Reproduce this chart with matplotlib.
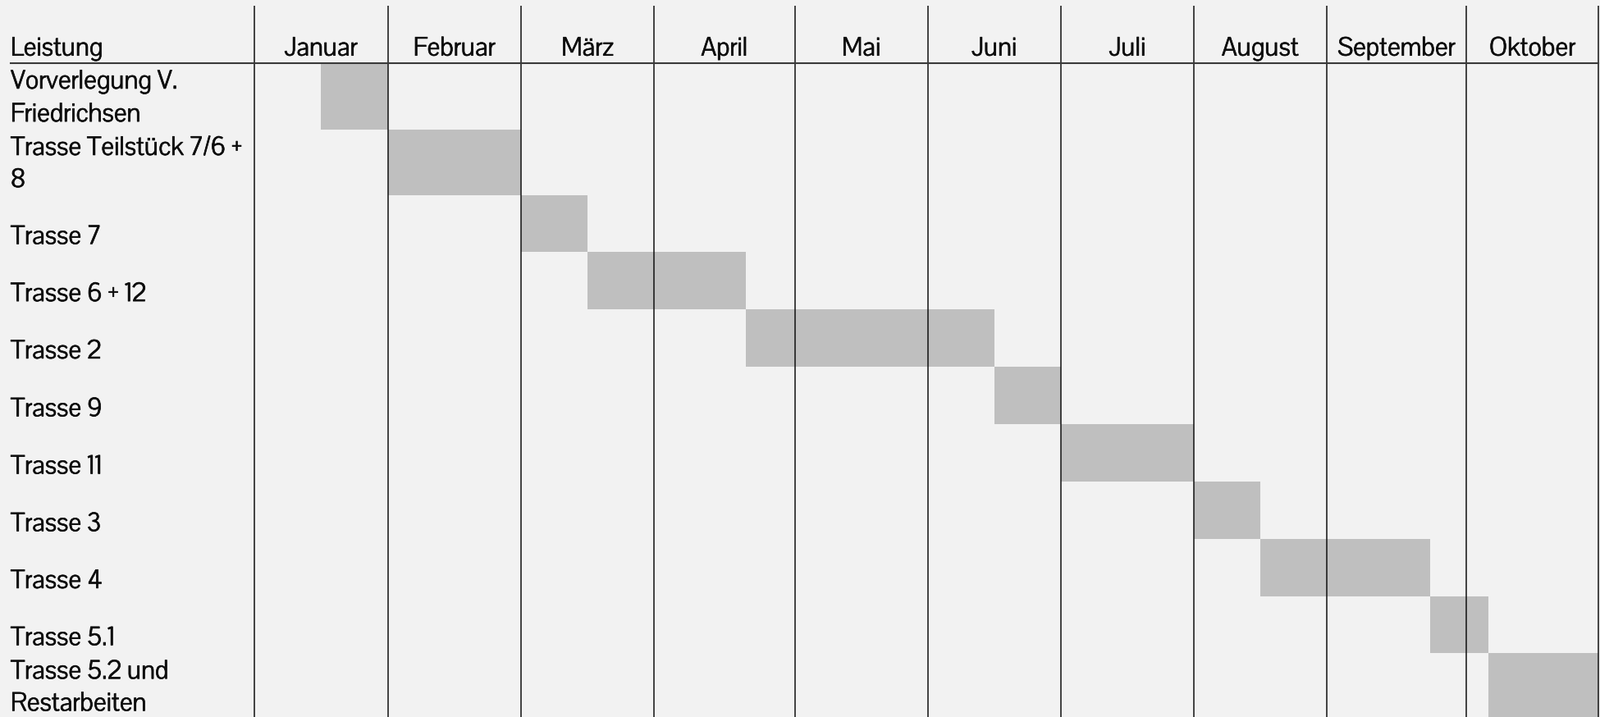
import os
import numpy as np
import matplotlib
matplotlib.use("Agg")
import matplotlib.pyplot as plt
from matplotlib import transforms
from matplotlib.lines import Line2D
from matplotlib import font_manager as fm
from matplotlib import patheffects as pe
from matplotlib.textpath import TextPath
from matplotlib.ft2font import FT2Font

# ---------------- data ----------------
header_label = "Leistung"
months = ["Januar", "Februar", "März", "April", "Mai", "Juni",
          "Juli", "August", "September", "Oktober"]
tasks = ["Vorverlegung V.\nFriedrichsen", "Trasse Teilstück 7/6 +\n8", "Trasse 7",
         "Trasse 6 + 12", "Trasse 2", "Trasse 9", "Trasse 11", "Trasse 3",
         "Trasse 4", "Trasse 5.1", "Trasse 5.2 und\nRestarbeiten"]
# start / end in month units (0 = start of Januar)
start_month = [0.5, 1.0, 2.0, 2.5, 3.65, 5.5, 6.0, 7.0, 7.5, 8.74, 9.17]
end_month = [1.0, 2.0, 2.5, 3.65, 5.5, 6.0, 7.0, 7.5, 8.74, 9.17, 10.0]

# ---------------- layout ----------------
W, H, DPI = 1950, 874, 100
col_edges_px = np.array([310, 472.5, 635, 797, 968.8, 1130.5, 1293.3, 1455, 1617, 1787, 1948])
row_edges_px = np.array([7.3, 76.7, 157.7, 237.7, 307, 376.7, 446.5, 517, 587, 657, 726.5, 796, 876])
label_x_px = 13
CAP_PX = 22.5          # cap height of the text in pixels
TARGET_RATIO = 104.0 / 22.3   # width("Trasse 7") / cap height in the reference
TARGET_STEM = 0.11            # stem width / cap height
TARGET_XH = 0.70              # x-height / cap height
LINE_STEP_PX = 39.0
BASE_ABOVE_ROW_BOTTOM = 10.0
BASE_ABOVE_HEADER_LINE = 9.0
TEXT_COLOR = '#0d0d0d'


# ---------------- font choice: a narrow regular sans, matched by proportions ----------------
def _ext(s, prop):
    tp = TextPath((0, 0), s, size=100, prop=prop)
    return tp.get_extents()


def pick_font():
    best = None
    bad_file = ('bold', 'italic', 'oblique', 'light', 'thin', 'black', 'medium',
                'semibold', 'heavy', 'extrabold', 'book', 'mono', 'serif', 'cjk', 'math')
    for f in fm.fontManager.ttflist:
        try:
            name = f.name.lower()
            fn = os.path.basename(f.fname).lower()
            if 'mono' in name or 'cjk' in name or 'math' in name or 'stix' in name:
                continue
            if 'serif' in name and 'sans' not in name:
                continue
            if fn.startswith('cm') and len(fn) < 12:
                continue
            if any(b in fn.replace('sansserif', '') for b in bad_file):
                continue
            if f.style != 'normal':
                continue
            w = f.weight
            if isinstance(w, str):
                if w not in ('normal', 'regular', 'book'):
                    continue
            elif not (350 <= int(w) <= 450):
                continue
            if not fn.endswith(('.ttf', '.otf')):
                continue
            cmap = FT2Font(f.fname).get_charmap()
            if ord('ü') not in cmap or ord('ä') not in cmap:
                continue
            prop = fm.FontProperties(fname=f.fname)
            cap = _ext("T", prop).height
            if cap <= 0:
                continue
            ratio = _ext("Trasse 7", prop).width / cap
            stem = _ext("I", prop).width / cap
            xh = _ext("x", prop).height / cap
            if stem > 0.16 or stem <= 0:
                continue
            score = (abs(ratio / TARGET_RATIO - 1)
                     + 1.5 * max(0.0, stem / TARGET_STEM - 1)
                     + 0.5 * abs(xh / TARGET_XH - 1))
            if best is None or score < best[0]:
                best = (score, f.fname)
        except Exception:
            continue
    return best[1] if best else None


font_file = pick_font()
if font_file:
    base_prop = fm.FontProperties(fname=font_file)
else:
    base_prop = fm.FontProperties(family='DejaVu Sans')

cap_per_em = _ext("T", base_prop).height / 100.0
asc_l = _ext("l", base_prop).y1 / 100.0
desc_p = -_ext("p", base_prop).y0 / 100.0
em_px = CAP_PX / cap_per_em
font_pt = em_px * 72.0 / DPI
line_sp = (LINE_STEP_PX / em_px - desc_p) / asc_l
prop = base_prop.copy()
prop.set_size(font_pt)
thicken = [pe.withStroke(linewidth=0.5, foreground=TEXT_COLOR)]


def make_piecewise(xs, ps):
    xs = np.asarray(xs, float)
    ps = np.asarray(ps, float)
    s0 = (ps[1] - ps[0]) / (xs[1] - xs[0])
    s1 = (ps[-1] - ps[-2]) / (xs[-1] - xs[-2])

    def fwd(v):
        v = np.asarray(v, float)
        out = np.interp(v, xs, ps)
        out = np.where(v < xs[0], ps[0] + (v - xs[0]) * s0, out)
        out = np.where(v > xs[-1], ps[-1] + (v - xs[-1]) * s1, out)
        return out

    def inv(p):
        p = np.asarray(p, float)
        out = np.interp(p, ps, xs)
        out = np.where(p < ps[0], xs[0] + (p - ps[0]) / s0, out)
        out = np.where(p > ps[-1], xs[-1] + (p - ps[-1]) / s1, out)
        return out
    return fwd, inv


fig = plt.figure(figsize=(W / DPI, H / DPI), dpi=DPI)
fig.patch.set_facecolor('#F2F2F2')

left = col_edges_px[0] / W
width = (col_edges_px[-1] - col_edges_px[0]) / W
bottom = (H - row_edges_px[-1]) / H
height = (row_edges_px[-1] - row_edges_px[0]) / H
ax = fig.add_axes([left, bottom, width, height])

n_months = len(months)
n_rows = len(tasks)
xf, xi = make_piecewise(np.arange(n_months + 1), col_edges_px)
yf, yi = make_piecewise(np.arange(-1, n_rows + 1), row_edges_px)
ax.set_xscale('function', functions=(xf, xi))
ax.set_yscale('function', functions=(yf, yi))
ax.set_xlim(0, n_months)
ax.set_ylim(n_rows, -1)
ax.set_axis_off()

# bars
starts = np.array(start_month)
ends = np.array(end_month)
ax.barh(np.arange(n_rows), ends - starts, left=starts, height=1.0, align='edge',
        color='#BFBFBF', edgecolor='none', zorder=1)

# vertical grid lines (month columns)
ax.vlines(np.arange(n_months + 1), -1, n_rows, colors='#111111', lw=1.1,
          zorder=3, clip_on=False)

# header underline
blend = transforms.blended_transform_factory(fig.transFigure, ax.transData)
ax.add_line(Line2D([12.5 / W, col_edges_px[-1] / W], [0, 0], transform=blend,
                   color='#3a3a3a', lw=1.5, zorder=4, clip_on=False))

# header texts
hdr_tr = transforms.offset_copy(ax.transData, fig=fig, y=BASE_ABOVE_HEADER_LINE, units='dots')
for i, m in enumerate(months):
    ax.text(i + 0.5, 0, m, ha='center', va='baseline', fontproperties=prop,
            color=TEXT_COLOR, transform=hdr_tr, clip_on=False, path_effects=thicken)
hdr_tr2 = transforms.offset_copy(blend, fig=fig, y=BASE_ABOVE_HEADER_LINE, units='dots')
ax.text(label_x_px / W, 0, header_label, ha='left', va='baseline', fontproperties=prop,
        color=TEXT_COLOR, transform=hdr_tr2, clip_on=False, path_effects=thicken)

# row labels (bottom aligned in their cells)
row_tr = transforms.offset_copy(blend, fig=fig, y=BASE_ABOVE_ROW_BOTTOM - desc_p * em_px,
                                units='dots')
for i, t in enumerate(tasks):
    ax.text(label_x_px / W, i + 1, t, ha='left', va='bottom', fontproperties=prop,
            color=TEXT_COLOR, linespacing=line_sp, transform=row_tr, clip_on=False,
            path_effects=thicken)

fig.savefig('out.png', dpi=DPI, facecolor=fig.get_facecolor())
